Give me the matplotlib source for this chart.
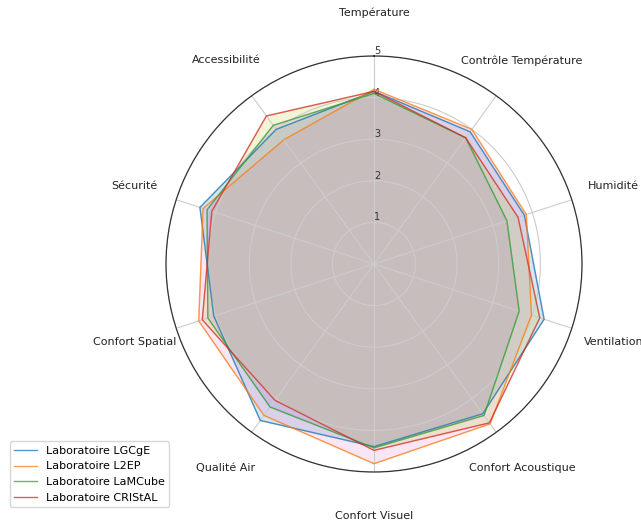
import numpy as np
import matplotlib
matplotlib.use("Agg")
import matplotlib.pyplot as plt

categories = ["Température", "Contrôle Température", "Humidité", "Ventilation",
              "Confort Acoustique", "Confort Visuel", "Qualité Air",
              "Confort Spatial", "Sécurité", "Accessibilité"]
labs = ["Laboratoire LGCgE", "Laboratoire L2EP", "Laboratoire LaMCube", "Laboratoire CRIStAL"]
lgcge = [4.15, 3.93, 3.80, 4.30, 4.45, 4.39, 4.65, 4.05, 4.40, 4.00]
l2ep = [4.20, 4.00, 3.85, 3.98, 4.75, 4.80, 4.50, 4.43, 4.32, 3.69]
lamcube = [4.10, 3.75, 3.36, 3.67, 4.50, 4.42, 4.25, 4.20, 4.22, 4.12]
cristal = [4.15, 3.75, 3.64, 4.19, 4.72, 4.48, 4.05, 4.34, 4.10, 4.40]
series = [lgcge, l2ep, lamcube, cristal]
colors = ["#1f77b4", "#ff7f0e", "#2ca02c", "#d62728"]
fill_colors = ["#1f77b4", "#e377c2", "#9467bd", "#bcbd22"]
rticks = [1, 2, 3, 4, 5]

fig = plt.figure(figsize=(6.41, 5.25), dpi=100)
ax = fig.add_axes([166/641, 53/525, 416/641, 416/525], projection="polar")
ax.set_theta_offset(np.pi/2)
ax.set_theta_direction(-1)

n = len(categories)
angles = np.linspace(0, 2*np.pi, n, endpoint=False)
ang_closed = np.concatenate([angles, angles[:1]])

for vals, lab, c, fc in zip(series, labs, colors, fill_colors):
    v = np.concatenate([vals, vals[:1]])
    ax.plot(ang_closed, v, color=c, linewidth=1, alpha=0.75, label=lab)
    ax.fill(ang_closed, v, color=fc, alpha=0.18)

ax.set_ylim(0, 5)
ax.set_xticks(angles)
ax.set_xticklabels(categories, fontsize=8, color="#222222")
ax.tick_params(axis="x", pad=21)
ax.set_yticks(rticks)
ax.set_yticklabels([str(t) for t in rticks], fontsize=7, color="#333333")
ax.set_rlabel_position(0)
ax.grid(color="#cccccc", linewidth=0.8)
ax.spines["polar"].set_color("#333333")
ax.spines["polar"].set_linewidth(0.9)

fig.legend(loc="lower left", bbox_to_anchor=(10/641, 18/525), fontsize=8,
           frameon=True, borderaxespad=0)

fig.savefig("out.png", dpi=100)
